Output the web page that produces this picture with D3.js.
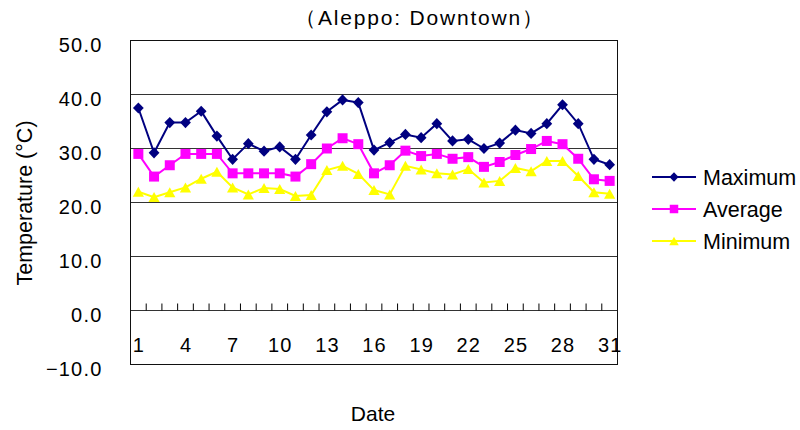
<!DOCTYPE html>
<html>
<head>
<meta charset="utf-8">
<script src="https://cdn.jsdelivr.net/npm/d3@7"></script>
<style>
  body { margin: 0; background: #fff; }
  text { font-family: "Liberation Sans", Arial, sans-serif; fill: #000; }
</style>
</head>
<body>
<svg id="chart" width="800" height="430"></svg>
<script>
// Daily temperatures for one month, Aleppo (downtown station)
const days = [1,2,3,4,5,6,7,8,9,10,11,12,13,14,15,16,17,18,19,20,21,22,23,24,25,26,27,28,29,30,31];
const maxTemp = [37.5,29.2,34.8,34.8,36.9,32.3,28.0,30.9,29.5,30.3,28.0,32.5,36.8,39.0,38.5,29.7,31.1,32.6,32.0,34.6,31.4,31.7,30.0,31.0,33.4,32.8,34.6,38.1,34.6,28.0,27.0];
const avgTemp = [29.0,24.8,26.9,29.0,29.0,29.0,25.4,25.4,25.4,25.4,24.8,27.1,30.0,31.9,30.8,25.4,26.9,29.6,28.6,29.0,28.1,28.4,26.6,27.5,28.8,29.9,31.4,30.8,28.1,24.3,24.0];
const minTemp = [22.0,21.0,21.9,22.8,24.4,25.7,22.8,21.5,22.7,22.5,21.2,21.4,26.0,26.8,25.3,22.3,21.5,26.8,26.1,25.4,25.2,26.2,23.7,24.0,26.4,25.8,27.7,27.7,24.9,21.9,21.6];
const dayLabels = [1,4,7,10,13,16,19,22,25,28,31];
const yTicks = [-10,0,10,20,30,40,50];
const seriesNames = ["Maximum","Average","Minimum"];

const svg = d3.select("#chart");
const plotLeft = 130.5, plotRight = 617.5, plotTop = 40.5, plotBottom = 364.5;

const x = d3.scaleBand().domain(days).range([plotLeft, plotRight]);
const y = d3.scaleLinear().domain([-10, 50]).range([plotBottom, plotTop]);

// marker shapes, centred on their bounding box
const shapes = {
  diamond: "M0,-5.6L5.4,0L0,5.6L-5.4,0Z",
  square: "M-5,-5H5V5H-5Z",
  triangle: "M0,-5L5.6,5H-5.6Z"
};

const series = [
  { name: seriesNames[0], values: maxTemp, color: "#000080", shape: shapes.diamond },
  { name: seriesNames[1], values: avgTemp, color: "#FF00FF", shape: shapes.square },
  { name: seriesNames[2], values: minTemp, color: "#FFFF00", shape: shapes.triangle }
];

// horizontal gridlines
svg.append("g").selectAll("line")
  .data(yTicks.filter(t => t > -10 && t < 50))
  .join("line")
  .attr("x1", plotLeft).attr("x2", plotRight)
  .attr("y1", d => y(d)).attr("y2", d => y(d))
  .attr("stroke", "#333").attr("stroke-width", 1);

// plot frame
svg.append("rect")
  .attr("x", plotLeft).attr("y", plotTop)
  .attr("width", plotRight - plotLeft).attr("height", plotBottom - plotTop)
  .attr("fill", "none").attr("stroke", "#111").attr("stroke-width", 1);

// value axis labels
const fmt = d3.format(".1f");
svg.append("g").selectAll("text")
  .data(yTicks)
  .join("text")
  .attr("x", 102.5)
  .attr("y", d => y(d) + 4)
  .attr("dy", "0.35em")
  .attr("text-anchor", "end")
  .attr("font-size", 20)
  .attr("letter-spacing", 1.2)
  .text(d => fmt(d));

// category axis on the zero line, ticks between days
const xAxis = svg.append("g")
  .attr("transform", `translate(0,${y(0)})`);
xAxis.selectAll("line")
  .data(days.slice(1))
  .join("line")
  .attr("x1", d => x(d)).attr("x2", d => x(d))
  .attr("y1", 0).attr("y2", -7)
  .attr("stroke", "#000").attr("stroke-width", 1);

svg.append("g").selectAll("text")
  .data(dayLabels)
  .join("text")
  .attr("x", d => x(d) + x.bandwidth() / 2 + 0.6)
  .attr("y", 345)
  .attr("dy", "0.35em")
  .attr("text-anchor", "middle")
  .attr("font-size", 20)
  .attr("letter-spacing", 1.2)
  .text(d => d);

// series lines and markers
const cx = i => x(days[i]) + x.bandwidth() / 2;
series.forEach(s => {
  const line = d3.line().x((d, i) => cx(i)).y(d => y(d));
  svg.append("path")
    .datum(s.values)
    .attr("d", line)
    .attr("fill", "none")
    .attr("stroke", s.color)
    .attr("stroke-width", 2);
  svg.append("g").selectAll("path")
    .data(s.values)
    .join("path")
    .attr("d", s.shape)
    .attr("transform", (d, i) => `translate(${cx(i)},${y(d)})`)
    .attr("fill", s.color);
});

// legend
const legend = svg.append("g");
series.forEach((s, i) => {
  const ly = 177 + i * 32;
  legend.append("line")
    .attr("x1", 652).attr("x2", 696)
    .attr("y1", ly).attr("y2", ly)
    .attr("stroke", s.color).attr("stroke-width", 2);
  legend.append("path")
    .attr("d", s.shape)
    .attr("transform", `translate(674,${ly}) scale(0.85)`)
    .attr("fill", s.color);
  legend.append("text")
    .attr("x", 703).attr("y", ly)
    .attr("dy", "0.35em")
    .attr("font-size", 21.5)
    .text(s.name);
});

// titles
svg.append("text")
  .attr("x", 420).attr("y", 18)
  .attr("dy", "0.35em")
  .attr("text-anchor", "middle")
  .attr("font-size", 21)
  .attr("letter-spacing", 1.8)
  .text("（Aleppo: Downtown）");

svg.append("text")
  .attr("transform", "translate(24,203) rotate(-90)")
  .attr("dy", "0.35em")
  .attr("text-anchor", "middle")
  .attr("font-size", 21.5)
  .text("Temperature (°C)");

svg.append("text")
  .attr("x", (plotLeft + plotRight) / 2 - 1).attr("y", 414)
  .attr("dy", "0.35em")
  .attr("text-anchor", "middle")
  .attr("font-size", 21)
  .text("Date");
</script>
</body>
</html>
